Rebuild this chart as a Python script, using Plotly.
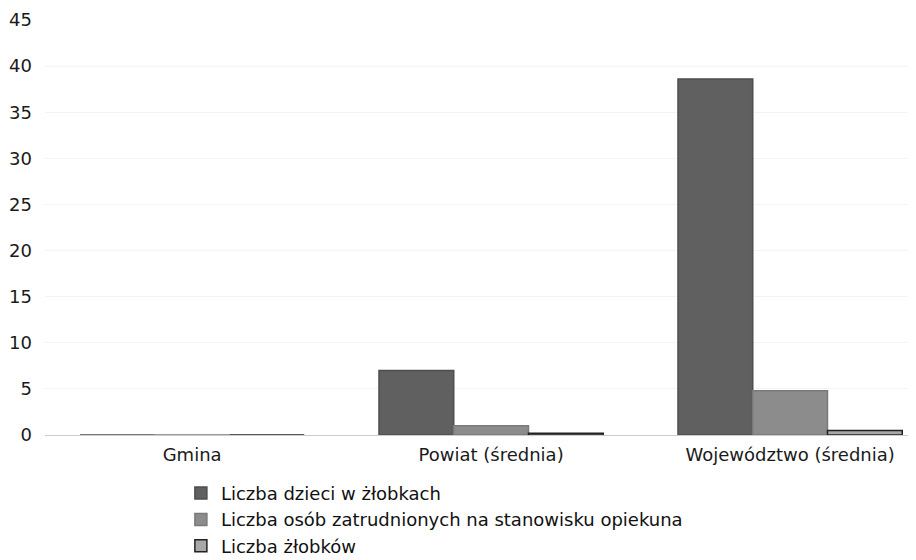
import plotly.graph_objects as go

categories = ["Gmina", "Powiat (średnia)", "Województwo (średnia)"]
series_names = ["Liczba dzieci w żłobkach",
                "Liczba osób zatrudnionych na stanowisku opiekuna",
                "Liczba żłobków"]
dzieci = [0, 7.0, 38.6]
opiekunowie = [0, 1.0, 4.8]
zlobki = [0, 0.2, 0.5]
y_ticks = [0, 5, 10, 15, 20, 25, 30, 35, 40, 45]

colors = ["#606060", "#8c8c8c", "#a8a8a8"]
lines = ["#4e4e4e", "#7a7a7a", "#222222"]

fig = go.Figure()
for name, vals, c, lc in zip(series_names, [dzieci, opiekunowie, zlobki], colors, lines):
    fig.add_trace(go.Bar(x=categories, y=vals, name=name,
                         marker=dict(color=c, line=dict(color=lc, width=1.5))))

fig.update_layout(
    width=916, height=560,
    margin=dict(l=37, r=8, t=12, b=133, autoexpand=False),
    plot_bgcolor="white", paper_bgcolor="white",
    barmode="group", bargap=0.25, bargroupgap=0,
    font=dict(family="DejaVu Sans", size=18, color="#1a1a1a"),
    showlegend=True,
    legend=dict(orientation="v", x=0.156, xanchor="left",
                y=-0.096, yanchor="top",
                font=dict(size=18, color="#111111"), traceorder="normal",
                itemwidth=30, tracegroupgap=0),
    xaxis=dict(showgrid=False, showline=True, linecolor="#cccccc", ticks="",
               range=[-0.492, 2.421], tickfont=dict(size=18), tickangle=0,
               ticklabelstandoff=3),
    yaxis=dict(range=[0, 45], tickvals=y_ticks, showgrid=True, gridcolor="#f4f4f4",
               zeroline=False, ticks="", tickfont=dict(size=18), ticklabelstandoff=12),
)

fig.write_html("out.html")
